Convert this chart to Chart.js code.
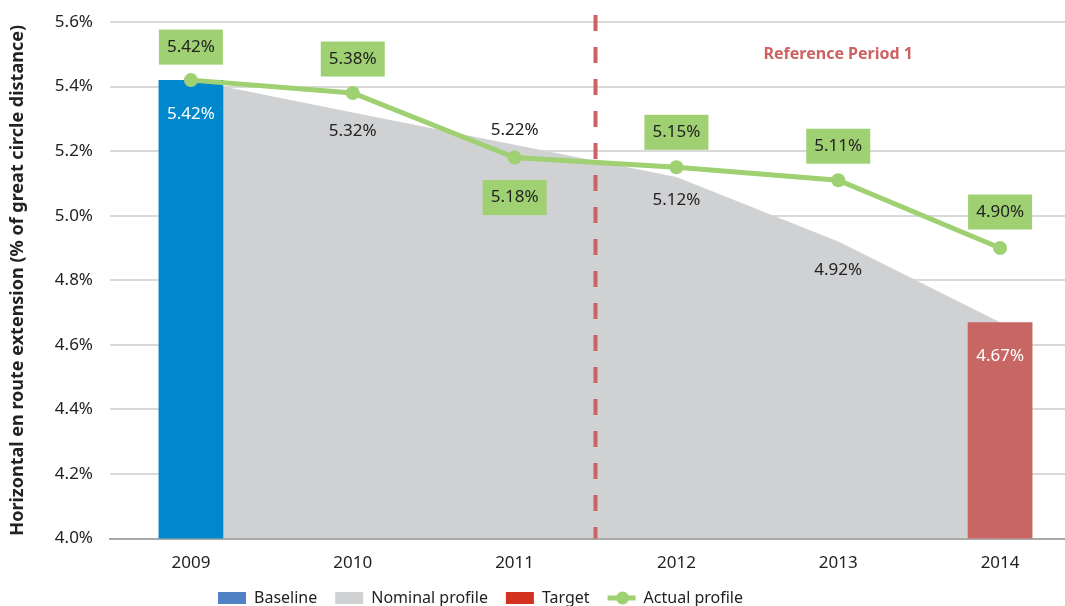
<!DOCTYPE html>
<html>
<head>
<meta charset="utf-8">
<script src="https://cdn.jsdelivr.net/npm/chart.js@4/dist/chart.umd.min.js"></script>
<style>
    html, body { margin: 0; padding: 0; background: #fff; overflow: hidden; }
    #wrap { width: 1088px; height: 631px; position: relative; }
</style>
</head>
<body>
<div id="wrap"><canvas id="routeChart"></canvas></div>
<script>
// chart values
const years = ['2009', '2010', '2011', '2012', '2013', '2014'];
const baseline = [5.42, null, null, null, null, null];
const target = [null, null, null, null, null, 4.67];
const nominal = [5.42, 5.32, 5.22, 5.12, 4.92, 4.67];
const actual = [5.42, 5.38, 5.18, 5.15, 5.11, 4.90];
const legendNames = ['Baseline', 'Nominal profile', 'Target', 'Actual profile'];
const periodLabel = 'Reference Period 1';

// label placement (pixels from the point)
const actualLabelShift = [-33, -34, 40, -35, -34, -36];
const nominalLabelShift = [null, 19, -15, 23, 29, null];

const GREEN = '#9fd071';
const FONT = '"Noto Sans", sans-serif';
const LEGEND_LEFT = 218;
const LEGEND_MID = 598;

function pct(v) {
    return v.toFixed(2) + '%';
}

const labelPlugin = {
    id: 'labels',
    afterUpdate(chart) {
        // the legend sits left of centre and close under the axis in the original
        const lg = chart.legend;
        if (!lg || !lg.legendHitBoxes.length) return;
        const first = lg.legendHitBoxes[0];
        const dx = LEGEND_LEFT - first.left;
        const dy = LEGEND_MID - (first.top + first.height / 2);
        lg.left += dx;
        lg.right += dx;
        lg.top += dy;
        lg.bottom += dy;
        lg.legendHitBoxes.forEach(b => { b.left += dx; b.top += dy; });
    },
    afterDatasetsDraw(chart) {
        const ctx = chart.ctx;
        const x = chart.scales.x;
        const y = chart.scales.y;
        const area = chart.chartArea;
        ctx.save();

        // dashed divider between 2011 and 2012
        const dx = x.getPixelForValue(2.5);
        ctx.strokeStyle = '#cd6262';
        ctx.lineWidth = 4;
        ctx.setLineDash([16, 16]);
        ctx.beginPath();
        ctx.moveTo(dx, area.top - 7);
        ctx.lineTo(dx, area.bottom);
        ctx.stroke();
        ctx.setLineDash([]);

        ctx.textAlign = 'center';
        ctx.textBaseline = 'middle';

        ctx.font = 'bold 16px ' + FONT;
        ctx.fillStyle = '#cd6262';
        ctx.fillText(periodLabel, x.getPixelForValue(4), y.getPixelForValue(5.5));

        ctx.font = '17px ' + FONT;

        // bar labels
        [[2, baseline], [3, target]].forEach(([idx, vals]) => {
            const meta = chart.getDatasetMeta(idx);
            vals.forEach((v, i) => {
                if (v === null) return;
                ctx.fillStyle = '#ffffff';
                ctx.fillText(pct(v), meta.data[i].x, meta.data[i].y + 34);
            });
        });

        // nominal labels
        const nomMeta = chart.getDatasetMeta(1);
        nominal.forEach((v, i) => {
            if (nominalLabelShift[i] === null) return;
            ctx.fillStyle = '#222';
            ctx.fillText(pct(v), nomMeta.data[i].x, nomMeta.data[i].y + nominalLabelShift[i]);
        });

        // actual labels in green boxes
        const actMeta = chart.getDatasetMeta(0);
        actual.forEach((v, i) => {
            const px = actMeta.data[i].x;
            const py = actMeta.data[i].y + actualLabelShift[i];
            ctx.fillStyle = GREEN;
            ctx.fillRect(px - 32, py - 17.5, 64, 35);
            ctx.fillStyle = '#222';
            ctx.fillText(pct(v), px, py);
        });

        ctx.restore();
    },
    afterDraw(chart) {
        // dot on the "Actual profile" legend line
        const boxes = chart.legend.legendHitBoxes;
        if (!boxes || !boxes[3]) return;
        const b = boxes[3];
        const ctx = chart.ctx;
        ctx.save();
        ctx.fillStyle = GREEN;
        ctx.beginPath();
        ctx.arc(b.left + 15, b.top + b.height / 2, 6.5, 0, Math.PI * 2);
        ctx.fill();
        ctx.restore();
    }
};

const legendColors = ['#4f81c4', '#d0d1d3', '#d3321f', GREEN];

new Chart(document.getElementById('routeChart'), {
    data: {
        labels: years,
        datasets: [
            {
                type: 'line',
                label: 'Actual profile',
                data: actual,
                borderColor: GREEN,
                backgroundColor: GREEN,
                borderWidth: 5,
                pointRadius: 7,
                pointBackgroundColor: GREEN,
                pointBorderWidth: 0,
                tension: 0,
                order: 1
            },
            {
                type: 'line',
                label: 'Nominal profile',
                data: nominal,
                borderWidth: 0,
                borderColor: 'rgba(0,0,0,0)',
                backgroundColor: '#d0d1d3',
                fill: 'start',
                pointRadius: 0,
                tension: 0,
                order: 3
            },
            {
                type: 'bar',
                label: 'Baseline',
                data: baseline,
                backgroundColor: '#0088cf',
                grouped: false,
                barPercentage: 0.4,
                categoryPercentage: 1,
                order: 2
            },
            {
                type: 'bar',
                label: 'Target',
                data: target,
                backgroundColor: '#c86664',
                grouped: false,
                barPercentage: 0.4,
                categoryPercentage: 1,
                order: 2
            }
        ]
    },
    options: {
        responsive: true,
        maintainAspectRatio: false,
        animation: false,
        layout: { padding: { top: 22, left: 0, right: 0, bottom: 0 } },
        plugins: {
            tooltip: { enabled: false },
            legend: {
                position: 'bottom',
                labels: {
                    font: { family: FONT, size: 16 },
                    color: '#222',
                    usePointStyle: true,
                    pointStyleWidth: 28,
                    boxHeight: 12,
                    padding: 18,
                    generateLabels: () => legendNames.map((name, i) => ({
                        text: name,
                        fillStyle: legendColors[i],
                        strokeStyle: legendColors[i],
                        lineWidth: i === 3 ? 5 : 0,
                        pointStyle: i === 3 ? 'line' : 'rect',
                        hidden: false,
                        datasetIndex: i,
                        fontColor: '#222'
                    }))
                }
            }
        },
        scales: {
            x: {
                offset: true,
                grid: { display: false, drawTicks: false },
                border: { color: '#a9a9a9', width: 2 },
                ticks: {
                    color: '#222',
                    padding: 14,
                    font: { family: FONT, size: 17 }
                }
            },
            y: {
                min: 4.0,
                max: 5.6,
                afterFit: function(scale) {
                    scale.width = 110;
                    scale.paddingTop = 10;
                },
                grid: { color: '#d9d9d9', lineWidth: 2, drawTicks: false },
                border: { display: false },
                ticks: {
                    stepSize: 0.2,
                    padding: 17,
                    color: '#222',
                    font: { family: FONT, size: 17 },
                    callback: function(value) { return value.toFixed(1) + '%'; }
                },
                title: {
                    display: true,
                    text: 'Horizontal en route extension (% of great circle distance)',
                    color: '#222',
                    font: { family: FONT, size: 18, weight: 'bold' },
                    padding: { top: 7, bottom: 0 }
                }
            }
        }
    },
    plugins: [labelPlugin]
});
</script>
</body>
</html>
